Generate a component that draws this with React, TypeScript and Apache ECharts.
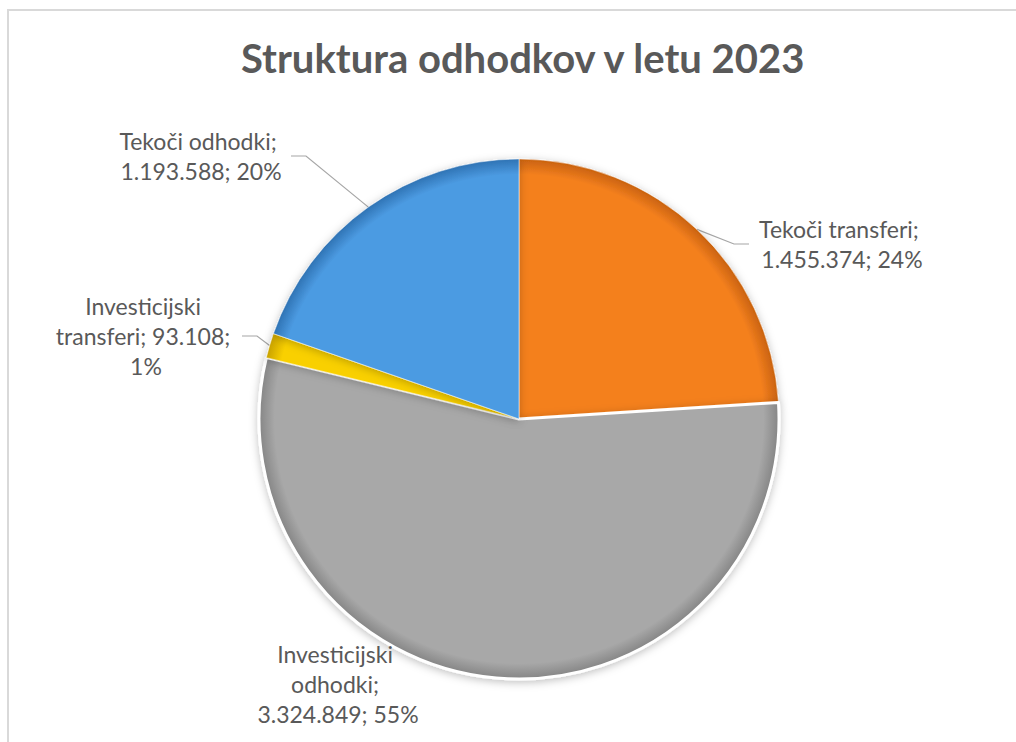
import React, { useEffect, useRef } from "react";
import * as echarts from "echarts";

const TITLE = "Struktura odhodkov v letu 2023";
const categories = [
  "Tekoči transferi",
  "Investicijski odhodki",
  "Investicijski transferi",
  "Tekoči odhodki",
];
const values = [1455374, 3324849, 93108, 1193588];
const colors = ["#F4801F", "#A8A8A8", "#F9D000", "#4C9BE2"];
const edgeColors = ["#C9620F", "#858585", "#C9A200", "#2F73B4"];

// label layout (positions of label centres, wrap widths)
const labelPos: [number, number][] = [
  [839, 244],
  [338, 684],
  [146, 336],
  [201, 156],
];
const labelWidths = [180, 178, 192, 180];

const CX = 519;
const CY = 419;
const R = 260;

function fmt(v: number): string {
  return String(v).replace(/\B(?=(\d{3})+(?!\d))/g, ".");
}

export default function App() {
  const ref = useRef<HTMLDivElement>(null);
  useEffect(() => {
    document.body.style.margin = "0";
    const chart = echarts.init(ref.current!, undefined, { renderer: "svg" });
    const font = "Lato, 'Open Sans', sans-serif";
    chart.setOption({
      animation: false,
      backgroundColor: "#ffffff",
      title: {
        text: TITLE,
        left: 236,
        top: 33,
        textStyle: {
          fontFamily: font,
          fontSize: 40,
          fontWeight: "bold",
          color: "#595959",
        },
      },
      graphic: [
        {
          type: "rect",
          shape: { x: 8, y: 10, width: 1020, height: 740 },
          style: { fill: "none", stroke: "#d9d9d9", lineWidth: 2 },
          silent: true,
          z: 0,
        },
      ],
      series: [
        {
          type: "pie",
          center: [CX, CY],
          radius: R,
          startAngle: 90,
          clockwise: true,
          percentPrecision: 0,
          avoidLabelOverlap: false,
          data: categories.map((name, i) => ({
            name,
            value: values[i],
            itemStyle: {
              color: {
                type: "radial",
                x: CX,
                y: CY,
                r: R,
                global: true,
                colorStops: [
                  { offset: 0, color: colors[i] },
                  { offset: 0.94, color: colors[i] },
                  { offset: 1, color: edgeColors[i] },
                ],
              },
              borderColor: i === 1 ? "#ffffff" : "rgba(255,255,255,0.5)",
              borderWidth: i === 1 ? 3 : 1,
            },
            label: { width: labelWidths[i] },
            labelLine:
              i === 1
                ? { lineStyle: { opacity: 0 } }
                : undefined,
          })),
          itemStyle: {
            shadowBlur: 8,
            shadowColor: "rgba(0,0,0,0.25)",
            shadowOffsetY: 2,
          },
          label: {
            show: true,
            position: "outside",
            formatter: (p: any) => `${p.name}; ${fmt(p.value)}; ${p.percent}%`,
            overflow: "break",
            fontFamily: font,
            fontSize: 23,
            lineHeight: 30,
            color: "#595959",
            align: "center",
          },
          labelLine: {
            show: true,
            length: 20,
            length2: 15,
            lineStyle: { color: "#A6A6A6", width: 1.2 },
          },
          labelLayout: (params: any) => {
            const pos = labelPos[params.dataIndex];
            return {
              x: pos[0],
              y: pos[1],
              align: "center",
              verticalAlign: "middle",
            };
          },
          emphasis: { disabled: true },
        },
      ],
    });
    return () => chart.dispose();
  }, []);
  return <div ref={ref} style={{ width: 1016, height: 742 }} />;
}
